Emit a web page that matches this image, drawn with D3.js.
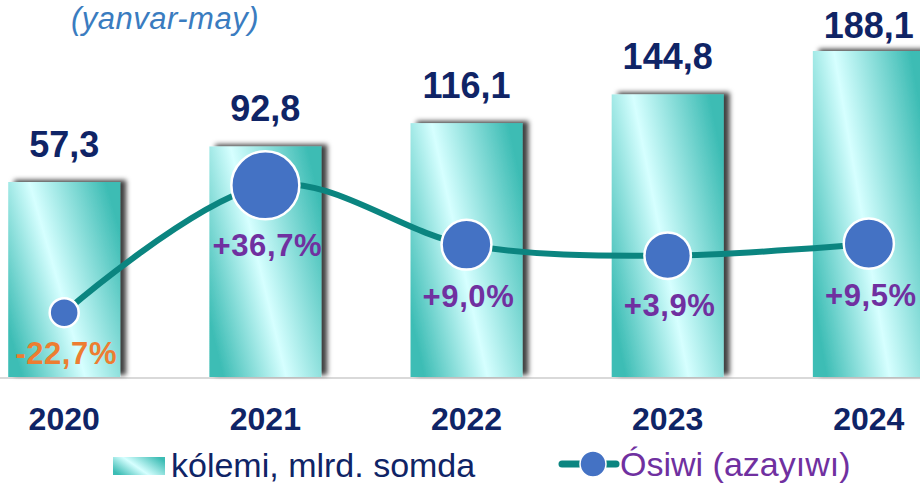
<!DOCTYPE html>
<html>
<head>
<meta charset="utf-8">
<script src="https://cdn.jsdelivr.net/npm/d3@7"></script>
<style>
  body { margin: 0; background: #fff; }
  svg { display: block; font-family: "Liberation Sans", Arial, sans-serif; }
</style>
</head>
<body>
<div id="chart"></div>
<script>
// data
const years = ["2020", "2021", "2022", "2023", "2024"];
const volume = [57.3, 92.8, 116.1, 144.8, 188.1];     // kólemi, mlrd. somda
const growth = [-22.7, 36.7, 9.0, 3.9, 9.5];         // ósiwi, %
const volumeLabels = ["57,3", "92,8", "116,1", "144,8", "188,1"];
const growthLabels = ["-22,7%", "+36,7%", "+9,0%", "+3,9%", "+9,5%"];
const subtitle = "(yanvar-may)";
const legendBar = "kólemi, mlrd. somda";
const legendLine = "Ósiwi (azayıwı)";

const width = 920, height = 483;
const baseY = 377;

const svg = d3.select("#chart")
  .append("svg")
    .attr("width", width)
    .attr("height", height);

const defs = svg.append("defs");

// diagonal shiny gradient of the bars
const grad = defs.append("linearGradient")
    .attr("id", "barGrad")
    .attr("x1", 0).attr("y1", 0.75)
    .attr("x2", 1).attr("y2", 0.25);
grad.append("stop").attr("offset", "0%").attr("stop-color", "#3dbdb5");
grad.append("stop").attr("offset", "45%").attr("stop-color", "#d6ffff");
grad.append("stop").attr("offset", "100%").attr("stop-color", "#3cbcb4");

const filt = defs.append("filter")
    .attr("id", "shadow")
    .attr("x", "-20%").attr("y", "-20%")
    .attr("width", "150%").attr("height", "140%");
filt.append("feDropShadow")
    .attr("dx", 6).attr("dy", -2)
    .attr("stdDeviation", 2.5)
    .attr("flood-color", "#000")
    .attr("flood-opacity", 0.75);

// scales
const x = d3.scaleBand()
    .domain(years)
    .range([-81, 1014])
    .padding(0.4435);
const cx = d => x(d) + x.bandwidth() / 2;

// bars are drawn on a hidden axis that does not start at zero
const yBar = d3.scaleLinear()
    .domain([-137.4, 200])
    .range([baseY, baseY - 337.4 * 1.0015]);

const yLine = d3.scaleLinear()
    .domain([-22.7, 36.7])
    .range([312.7, 185.3]);

const rScale = d3.scaleLinear()
    .domain([-22.7, 36.7])
    .range([14.5, 34]);

// baseline
svg.append("line")
    .attr("x1", 0).attr("x2", width)
    .attr("y1", baseY + 1).attr("y2", baseY + 1)
    .attr("stroke", "#d9d9d9")
    .attr("stroke-width", 2);

// bars
svg.append("g")
  .selectAll("rect")
  .data(years)
  .join("rect")
    .attr("x", d => x(d))
    .attr("y", (d, i) => yBar(volume[i]))
    .attr("width", x.bandwidth())
    .attr("height", (d, i) => baseY - yBar(volume[i]))
    .attr("fill", "url(#barGrad)")
    .attr("filter", "url(#shadow)");

// value labels above bars
svg.append("g")
  .selectAll("text")
  .data(years)
  .join("text")
    .attr("x", d => cx(d))
    .attr("y", (d, i) => Math.max(yBar(volume[i]) - 25, 38))
    .attr("text-anchor", "middle")
    .attr("font-size", 36)
    .attr("font-weight", "bold")
    .attr("fill", "#0f2466")
    .text((d, i) => volumeLabels[i]);

// year labels
svg.append("g")
  .selectAll("text")
  .data(years)
  .join("text")
    .attr("x", d => cx(d))
    .attr("y", 430)
    .attr("text-anchor", "middle")
    .attr("font-size", 32)
    .attr("font-weight", "bold")
    .attr("fill", "#0f2466")
    .text(d => d);

// growth line
const line = d3.line()
    .x((d, i) => cx(years[i]))
    .y(d => yLine(d))
    .curve(d3.curveCardinal.tension(0));

svg.append("path")
    .datum(growth)
    .attr("d", line)
    .attr("fill", "none")
    .attr("stroke", "#0b8580")
    .attr("stroke-width", 6);

svg.append("g")
  .selectAll("circle")
  .data(growth)
  .join("circle")
    .attr("cx", (d, i) => cx(years[i]))
    .attr("cy", d => yLine(d))
    .attr("r", d => rScale(d))
    .attr("fill", "#4472c4")
    .attr("stroke", "#fff")
    .attr("stroke-width", 2.5);

// growth labels below the points
svg.append("g")
  .selectAll("text")
  .data(growth)
  .join("text")
    .attr("x", (d, i) => cx(years[i]) + 2)
    .attr("y", d => yLine(d) + rScale(d) + 37)
    .attr("text-anchor", "middle")
    .attr("font-size", 31)
    .attr("letter-spacing", 0.6)
    .attr("font-weight", "bold")
    .attr("fill", d => d < 0 ? "#ed7d31" : "#7030a0")
    .text((d, i) => growthLabels[i]);

// subtitle
svg.append("text")
    .attr("x", 165)
    .attr("y", 29)
    .attr("text-anchor", "middle")
    .attr("font-size", 31)
    .attr("letter-spacing", 0.5)
    .attr("font-style", "italic")
    .attr("fill", "#3a7cc0")
    .text(subtitle);

// legend
const legend = svg.append("g");
legend.append("rect")
    .attr("x", 113).attr("y", 457)
    .attr("width", 52).attr("height", 18)
    .attr("fill", "url(#barGrad)");
legend.append("text")
    .attr("x", 171).attr("y", 477)
    .attr("font-size", 34)
    .attr("fill", "#0f2466")
    .text(legendBar);

legend.append("line")
    .attr("x1", 562).attr("x2", 616)
    .attr("y1", 464).attr("y2", 464)
    .attr("stroke", "#0b8580")
    .attr("stroke-width", 7)
    .attr("stroke-linecap", "round");
legend.append("circle")
    .attr("cx", 593).attr("cy", 464)
    .attr("r", 13)
    .attr("fill", "#4472c4")
    .attr("stroke", "#fff")
    .attr("stroke-width", 1.5);
legend.append("text")
    .attr("x", 620).attr("y", 476)
    .attr("font-size", 34)
    .attr("fill", "#7030a0")
    .text(legendLine);
</script>
</body>
</html>
